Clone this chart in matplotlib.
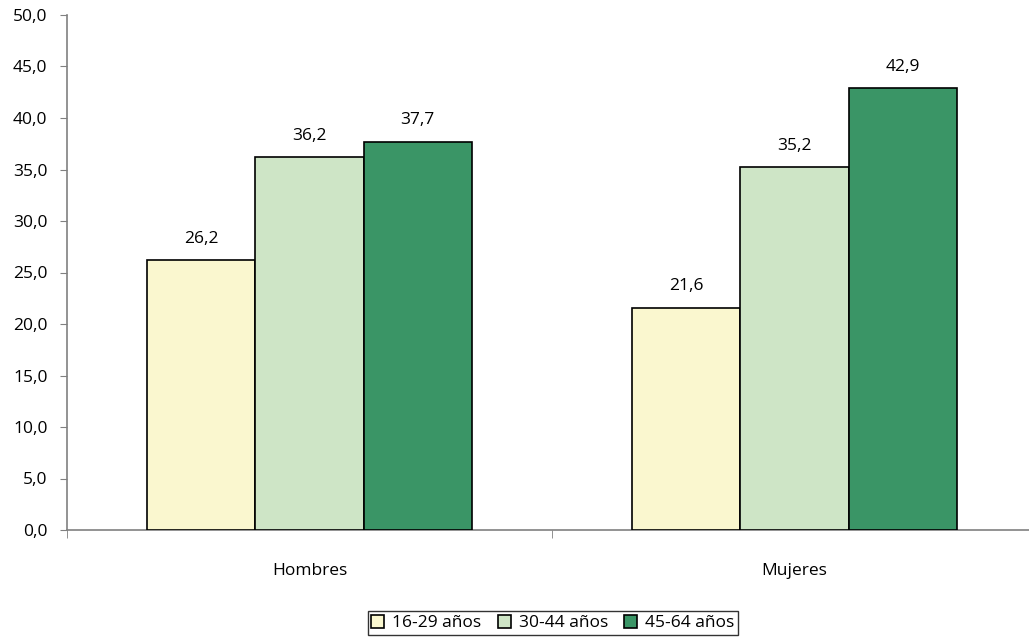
import matplotlib
matplotlib.use("Agg")
import matplotlib.pyplot as plt
import numpy as np

plt.rcParams['font.family'] = ['Open Sans', 'DejaVu Sans']

categories = ["Hombres", "Mujeres"]
series = ["16-29 años", "30-44 años", "45-64 años"]
values = {
    "16-29 años": [26.2, 21.6],
    "30-44 años": [36.2, 35.2],
    "45-64 años": [37.7, 42.9],
}
colors = ["#FAF7CF", "#CEE5C6", "#3A9566"]
yticks = [0, 5, 10, 15, 20, 25, 30, 35, 40, 45, 50]

fs = 12.5

fig = plt.figure(figsize=(10.29, 6.39), dpi=100)
# axes runs a little past the right edge, like the original
ax = fig.add_axes([67 / 1029, 1 - 530 / 639, 970 / 1029, 515 / 639])

x = np.arange(len(categories))
w = 0.2227
for i, s in enumerate(series):
    pos = x + (i - 1) * w
    bars = ax.bar(pos, values[s], width=w, color=colors[i], edgecolor="black",
                  linewidth=1.2, label=s, zorder=3)
    for b, v in zip(bars, values[s]):
        ax.text(b.get_x() + b.get_width() / 2, v + 1.3, f"{v:.1f}".replace(".", ","),
                ha="center", va="bottom", fontsize=fs)

ax.set_xlim(-0.5, 1.5)
ax.set_ylim(0, 50)
ax.set_yticks(yticks)
ax.set_yticklabels([f"{t:.1f}".replace(".", ",") for t in yticks], fontsize=fs)
ax.set_xticks(x)
ax.set_xticklabels(categories, fontsize=fs)
ax.tick_params(axis="x", length=0, pad=24)
ax.set_xticks([-0.5, 0.5, 1.5], minor=True)
ax.tick_params(axis="x", which="minor", length=6, color="#808080", direction="out")
ax.tick_params(axis="y", length=5, color="#808080", direction="out", pad=9)

for sp in ["top", "right"]:
    ax.spines[sp].set_visible(False)
for sp in ["left", "bottom"]:
    ax.spines[sp].set_color("#808080")
    ax.spines[sp].set_linewidth(1.2)

leg = fig.legend(loc="center", bbox_to_anchor=(553 / 1029, 1 - 623 / 639), ncol=3,
                 fontsize=fs, frameon=True, fancybox=False, edgecolor="black",
                 handlelength=0.75, handleheight=0.75, handletextpad=0.45,
                 columnspacing=0.95, borderpad=0.2)
leg.get_frame().set_linewidth(1.0)
for h in leg.legend_handles:
    h.set_linewidth(1.2)

fig.savefig("out.png", dpi=100)
